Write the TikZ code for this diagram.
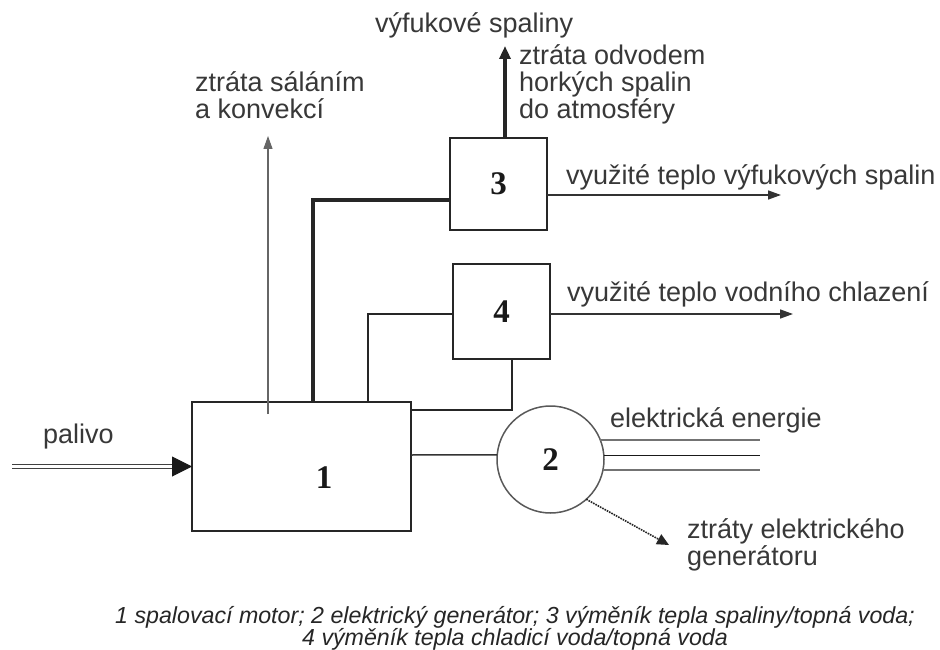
\documentclass[tikz,border=0pt]{standalone}
\usepackage{fontspec}
\setmainfont{Liberation Sans}
\newfontfamily\numfont{Liberation Serif}
\usetikzlibrary{arrows.meta}
\begin{document}
\begin{tikzpicture}[x=1pt,y=-1pt,
  box/.style={draw=black!85, line width=1.7pt, inner sep=0pt, outer sep=0pt},
  gen/.style={draw=black!65, line width=1.5pt, circle, inner sep=0pt, outer sep=0pt, minimum size=107pt},
  num/.style={font=\numfont\bfseries\fontsize{33}{33}\selectfont, text=black!90, inner sep=0pt},
  lbl/.style={font=\fontsize{27}{27}\selectfont, text=black!78, inner sep=0pt, anchor=base west, align=left},
  captxt/.style={font=\itshape\fontsize{23.2}{22}\selectfont, text=black!85, inner sep=0pt, anchor=base, align=center},
  tip/.style={-{Triangle[length=13pt,width=9pt]}},
  thickln/.style={draw=black!85, line width=3.3pt},
  midln/.style={draw=black!85, line width=2pt},
  thinln/.style={draw=black!60, line width=1.1pt},
  outln/.style={draw=black!80, line width=1.5pt},
]
\useasboundingbox (0,0) rectangle (940,650);
\fill[white] (0,0) rectangle (940,650);

% blocks
\node[box, minimum width=219pt, minimum height=129pt] (b1) at (301.5,466.5) {};
\node[num] (n1) at (324,477.5) {1};
\node[box, minimum width=97pt, minimum height=92pt, num] (b3) at (498.5,184) {3};
\node[box, minimum width=97pt, minimum height=95pt, num] (b4) at (501.5,311.5) {4};
\node[gen, num] (c2) at (550.5,459.5) {2};

% free ends
\coordinate (s1) at (268,414);
\coordinate (t1) at (268,136);
\coordinate (ex) at (505,46);
\coordinate (vt1end) at (781,195);
\coordinate (vt2end) at (793,314);
\coordinate (eend) at (760,0);
\coordinate (dz) at (669,545);
\coordinate (pal0) at (12,466.5);

% connectors
\draw[thinln, tip] (s1) -- (t1);
\draw[thickln] ([xshift=121pt]b1.north west) |- ([yshift=-16pt]b3.west);
\draw[midln] ([xshift=176pt]b1.north west) |- ([yshift=-2.5pt]b4.west);
\draw[midln] ([xshift=10.5pt]b4.south) |- ([yshift=-8pt]b1.north east);
\draw[outln] ([yshift=11.5pt]b1.east) -- (c2.175);
\draw[draw=black!55, line width=1.9pt] (c2.21) -- (c2.21 -| eend);
\draw[draw=black!90, line width=1.3pt] (c2.4) -- (c2.4 -| eend);
\draw[draw=black!55, line width=1.9pt] (c2.-11) -- (c2.-11 -| eend);
\draw[draw=black!85, line width=1.6pt, densely dotted, -{Triangle[length=12pt,width=11pt]}] (c2.-48) -- (dz);
\draw[outln, tip] ([yshift=-11pt]b3.east) -- (vt1end);
\draw[outln, tip] ([yshift=-2.5pt]b4.east) -- (vt2end);
\draw[thickln, -{Triangle[length=13pt,width=11pt]}] ([xshift=6.5pt]b3.north) -- (ex);
\draw[draw=black!75, line width=1.7pt, double=white, double distance=2.4pt] (pal0) -- ([xshift=-16pt]b1.west);
\draw[draw=black!90, line width=1pt, -{Triangle[length=20pt,width=20pt]}] ([xshift=-20pt]b1.west) -- (b1.west);

% labels (base = baseline of the last line)
\node[lbl] (lvyf) at (375,33) {výfukové spaliny};
\node[lbl] (lztr) at (519,119) {ztráta odvodem\\horkých spalin\\do atmosféry};
\node[lbl] (lsal) at (195,119) {ztráta sáláním\\a konvekcí};
\node[lbl] (lvt1) at (566,185) {využité teplo výfukových spalin};
\node[lbl] (lvt2) at (567,301) {využité teplo vodního chlazení};
\node[lbl] (lee) at (610,427) {elektrická energie};
\node[lbl] (lzeg) at (687,565) {ztráty elektrického\\generátoru};
\node[lbl] (lpal) at (43,443) {palivo};
\node[captxt] (lcap) at (515,645) {1 spalovací motor; 2 elektrický generátor; 3 výměník tepla spaliny/topná voda;\\4 výměník tepla chladicí voda/topná voda};
\end{tikzpicture}
\end{document}
